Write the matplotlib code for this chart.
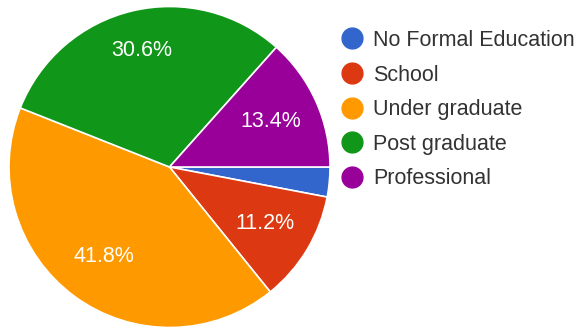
import matplotlib
matplotlib.use("Agg")
import numpy as np
import matplotlib.pyplot as plt
from matplotlib.lines import Line2D

categories = ["No Formal Education", "School", "Under graduate", "Post graduate", "Professional"]
shares = [3.0, 11.2, 41.8, 30.6, 13.4]
colors = ["#3366cc", "#dc3912", "#ff9900", "#109618", "#990099"]

plt.rcParams["font.family"] = ["Liberation Sans", "DejaVu Sans"]

W, H = 577, 329
fig = plt.figure(figsize=(W / 100, H / 100), dpi=100)
fig.patch.set_facecolor("white")

cx, cy, r = 169.5, 167.0, 160.5
ax = fig.add_axes([(cx - r) / W, (H - cy - r) / H, 2 * r / W, 2 * r / H])


def fmt(p):
    return f"{p:.1f}%" if p >= 5 else ""


wedges, texts, autotexts = ax.pie(
    shares,
    colors=colors,
    startangle=0,
    counterclock=False,
    autopct=fmt,
    pctdistance=0.69,
    wedgeprops=dict(edgecolor="white", linewidth=1.2),
    textprops=dict(color="white", fontsize=15.5),
)
ax.set_xlim(-1, 1)
ax.set_ylim(-1, 1)
ax.set_aspect("equal")

# the wide "Post graduate" label sits a little further out along its bisector
w = wedges[3]
mid = np.deg2rad((w.theta1 + w.theta2) / 2)
autotexts[3].set_position((0.745 * np.cos(mid), 0.745 * np.sin(mid)))

fs = 15.5
handles = [
    Line2D([], [], marker="o", linestyle="none", markersize=15,
           markerfacecolor=c, markeredgecolor=c)
    for c in colors
]
fig.legend(
    handles, categories,
    loc="upper left",
    bbox_to_anchor=(341.5 / W, 1 - 30.0 / H),
    frameon=False,
    fontsize=fs,
    labelcolor="#333333",
    handlelength=1.0,
    handletextpad=0.47,
    labelspacing=0.63,
    borderpad=0,
    borderaxespad=0,
)

fig.savefig("out.png", dpi=100, facecolor="white")
